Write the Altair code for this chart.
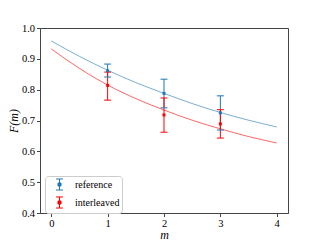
import altair as alt
import pandas as pd

# --- data ---
series_names = ["reference", "interleaved"]
colors = ["#1f77b4", "#ff0000"]

m_pts = [1, 2, 3]
ref_F = [0.861, 0.788, 0.725]
ref_lo = [0.841, 0.741, 0.669]
ref_hi = [0.883, 0.834, 0.780]
int_F = [0.814, 0.718, 0.689]
int_lo = [0.766, 0.662, 0.643]
int_hi = [0.857, 0.773, 0.735]

m_curve = [0, 0.5, 1, 1.5, 2, 2.5, 3, 3.5, 4]
ref_curve = [0.958, 0.908, 0.863, 0.823, 0.788, 0.755, 0.726, 0.701, 0.679]
int_curve = [0.932, 0.869, 0.815, 0.771, 0.734, 0.701, 0.673, 0.648, 0.627]

x_ticks = [0, 1, 2, 3, 4]
y_ticks = [0.4, 0.5, 0.6, 0.7, 0.8, 0.9, 1.0]

pts = pd.DataFrame({
    "m": m_pts * 2,
    "series": ["reference"] * 3 + ["interleaved"] * 3,
    "F": ref_F + int_F,
    "lo": ref_lo + int_lo,
    "hi": ref_hi + int_hi,
})
curve = pd.DataFrame({
    "m": m_curve * 2,
    "series": ["reference"] * len(m_curve) + ["interleaved"] * len(m_curve),
    "F": ref_curve + int_curve,
})

FONT = "Liberation Serif"

x_scale = alt.Scale(domain=[-0.2, 4.2], nice=False, zero=False)
y_scale = alt.Scale(domain=[0.4, 1.0], nice=False, zero=False)
x_axis = alt.Axis(values=x_ticks, title="m", format="d", titleFontStyle="italic",
                  labelOverlap=False)
y_axis = alt.Axis(values=y_ticks, title="F(m)", format=".1f", titleFontStyle="italic",
                  labelOverlap=False)
x = alt.X("m:Q", scale=x_scale, axis=x_axis)


def ycol(field):
    return alt.Y(f"{field}:Q", scale=y_scale, axis=y_axis)


legend = alt.Legend(
    title=None, orient="none", legendX=5, legendY=148,
    symbolType="M-0.58,-0.92H0.58M0,-0.92V0.92M-0.58,0.92H0.58M-0.25,-0.25H0.25V0.25H-0.25Z",
    symbolSize=144, symbolStrokeWidth=1, symbolOffset=6, symbolOpacity=1,
    labelOffset=9, labelFont=FONT, labelFontSize=10, labelColor="black",
    padding=2, rowPadding=1, strokeColor="#cccccc", cornerRadius=3,
    fillColor="white",
)
color = alt.Color("series:N", scale=alt.Scale(domain=series_names, range=colors), legend=legend)

lines = alt.Chart(curve).mark_line(strokeWidth=1, opacity=0.6, interpolate="monotone").encode(
    x=x, y=ycol("F"), color=color, detail="series:N"
)
bars = alt.Chart(pts).mark_rule(strokeWidth=1).encode(
    x=x, y=ycol("lo"), y2="hi:Q", color=color,
)
cap_shape = "M-1,0H1"
caps_lo = alt.Chart(pts).mark_point(shape=cap_shape, size=49, filled=False, strokeWidth=1, opacity=1).encode(
    x=x, y=ycol("lo"), color=color
)
caps_hi = alt.Chart(pts).mark_point(shape=cap_shape, size=49, filled=False, strokeWidth=1, opacity=1).encode(
    x=x, y=ycol("hi"), color=color
)
dots = alt.Chart(pts).mark_point(shape="square", size=9, filled=True, opacity=1).encode(
    x=x, y=ycol("F"), color=color
)

chart = alt.layer(bars, lines, caps_lo, caps_hi, dots).properties(
    width=248, height=185,
    autosize=alt.AutoSizeParams(type="none"),
    padding={"left": 32, "top": 20, "right": 24, "bottom": 26},
).configure_view(
    stroke="#444444", strokeWidth=1
).configure_axis(
    labelFont=FONT, labelFontSize=10.5, labelColor="black",
    titleFont=FONT, titleFontSize=12, titleFontWeight="normal", titleColor="black",
    domainColor="#444444", tickColor="#444444", tickSize=3.5, grid=False,
    labelPadding=2,
).configure_axisY(titlePadding=1).configure_axisX(titlePadding=0, labelPadding=2)

chart.save("out.html", embed_options={"renderer": "svg", "actions": False})
